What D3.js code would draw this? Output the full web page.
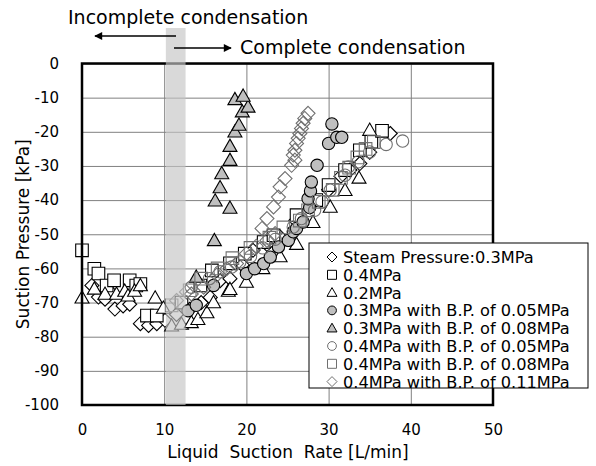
<!DOCTYPE html>
<html lang="en">
<head>
<meta charset="UTF-8">
<title>Suction Pressure vs Liquid Suction Rate</title>
<script src="https://cdn.jsdelivr.net/npm/d3@7"></script>
<style>
  body { margin: 0; background: #fff; }
  text { font-family: "DejaVu Sans", "Liberation Sans", Arial, sans-serif; fill: #000; }
</style>
</head>
<body>
<script>
    // axis ticks
    var xTicks = [0, 10, 20, 30, 40, 50];
    var yTicks = [0, -10, -20, -30, -40, -50, -60, -70, -80, -90, -100];

    // series values [liquid suction rate L/min, suction pressure kPa]
    var steam03 = [[1.2,-65],[2.0,-68.4],[2.8,-69],[3.5,-67],[4.0,-71.9],[5.0,-71],[5.8,-70.5],[7.1,-76.2],[8.1,-76.7],[9.1,-76.2],[10.1,-75.2],[11.5,-73.5],[13.1,-72],[14.5,-70],[15.6,-68.5],[16.8,-63.6],[18.0,-63],[19.5,-59],[20.8,-54.7],[22.5,-53],[24.1,-50.8],[26,-46],[28,-41],[30,-37],[31.5,-33],[32.6,-31.2],[33.8,-29.3],[35,-26],[37.5,-20.5]];
    var steam04 = [[0,-54.7],[1.5,-60.1],[2.0,-61.5],[3.0,-65],[3.9,-63.5],[5.8,-63.5],[6.6,-65],[7.1,-64.6],[7.9,-73.8],[9.1,-73.8],[12.1,-70],[14.4,-65],[15.8,-60.6],[18,-58.5],[19.8,-55.7],[22.1,-52.3],[23.3,-50.3],[26.1,-44.4],[28.5,-40],[30.0,-35.6],[32.0,-31.2],[33.8,-25.4],[35.2,-22.9],[36.5,-19.7]];
    var steam02 = [[0,-68.6],[1.5,-66],[2.8,-67.5],[4.2,-67.5],[5.2,-66.6],[5.6,-68],[6.4,-66.6],[7.1,-65],[8.9,-68.6],[9.9,-71.6],[10.9,-76.8],[12.1,-76.3],[13.3,-75.8],[14.1,-74.9],[15.2,-72.9],[16.0,-70],[17.8,-66.6],[18.0,-66.1],[20.0,-64],[22,-60],[24.1,-56.5],[26.1,-52.9],[28.1,-46.5],[30.2,-42],[32.0,-37.1],[33.7,-33.5],[35.0,-19.5]];
    var bp03_005 = [[12.9,-72.4],[13.9,-70.8],[16.0,-65],[20.0,-61.5],[21.0,-60.1],[22.1,-58.6],[22.9,-56.7],[23.9,-53.7],[25.1,-51.8],[25.7,-49.3],[26.1,-48.3],[26.9,-46.4],[27.7,-42.2],[27.5,-39.6],[27.8,-37.3],[27.9,-34.7],[28.6,-29.8],[30.0,-23.4],[31.0,-21.6],[31.6,-21.6],[30.4,-17.7]];
    var bp03_008 = [[13.9,-62.5],[16.1,-51.8],[16.2,-40.2],[18.0,-42.3],[16.8,-36.3],[17.0,-32.2],[18.0,-28.3],[18.0,-24.2],[18.6,-20],[19.1,-18],[19.5,-14.1],[20.2,-12.7],[18.6,-10.5],[19.6,-9.5]];
    var bp04_005 = [[13.3,-65.5],[15.5,-63],[16.8,-61],[18.2,-59.6],[19.2,-58.1],[20.5,-56.5],[22,-54],[23.5,-51.5],[25.7,-47.9],[26.7,-45.4],[28.3,-43],[29.2,-40.5],[30.2,-37.1],[32.0,-32.7],[32.4,-30.3],[33.6,-28.8],[35.0,-25.9],[37.0,-23.7],[39.0,-22.7]];
    var bp04_008 = [[10.9,-70.8],[13.1,-66.4],[14.5,-63],[16.5,-60],[18.3,-57],[20.5,-54],[22.8,-51],[24.5,-48],[26.5,-46],[27.5,-43],[28.8,-40.5],[30.5,-37],[31.5,-33.5],[32.5,-30.5],[33.5,-27.5],[34.5,-25],[35.5,-23]];
    var bp04_011 = [[11.5,-69.4],[12.7,-66.9],[13.3,-67.5],[14.8,-65.5],[16.4,-62],[17.6,-60.1],[18.8,-58.6],[20.0,-55.7],[21.2,-53.5],[22.5,-51.8],[23.5,-49.8],[21.9,-48.3],[22.5,-45.4],[23.3,-42],[23.9,-39.1],[24.1,-36.1],[24.7,-33.7],[25.5,-29.8],[25.9,-28.3],[25.7,-26.8],[25.9,-25.4],[26.1,-23.4],[26.3,-21.9],[26.5,-20.5],[26.7,-19],[26.9,-17.5],[27.1,-16.1],[27.5,-14.6]];

    // condensation boundary band (L/min)
    var band = [10.2, 12.6];

    var seriesNames = ["Steam Pressure:0.3MPa", "0.4MPa", "0.2MPa",
        "0.3MPa with B.P. of 0.05MPa", "0.3MPa with B.P. of 0.08MPa",
        "0.4MPa with B.P. of 0.05MPa", "0.4MPa with B.P. of 0.08MPa",
        "0.4MPa with B.P. of 0.11MPa"];

    var series = [
        {name: seriesNames[0], data: steam03,  shape: "diamond",  fill: "#fff",    stroke: "#000"},
        {name: seriesNames[1], data: steam04,  shape: "square",   fill: "#fff",    stroke: "#000"},
        {name: seriesNames[2], data: steam02,  shape: "triangle", fill: "#fff",    stroke: "#000"},
        {name: seriesNames[3], data: bp03_005, shape: "circle",   fill: "#bfbfbf", stroke: "#000"},
        {name: seriesNames[4], data: bp03_008, shape: "triangle", fill: "#bfbfbf", stroke: "#000"},
        {name: seriesNames[5], data: bp04_005, shape: "circle",   fill: "none",    stroke: "#707070"},
        {name: seriesNames[6], data: bp04_008, shape: "square",   fill: "none",    stroke: "#707070"},
        {name: seriesNames[7], data: bp04_011, shape: "diamond",  fill: "none",    stroke: "#707070"}
    ];

    // marker paths, s = half size
    function shapePath(type, s) {
        if (type == "diamond") return "M0," + (-s) + "L" + s + ",0L0," + s + "L" + (-s) + ",0Z";
        if (type == "square") { var h = s * 0.9; return "M" + (-h) + "," + (-h) + "h" + 2*h + "v" + 2*h + "h" + (-2*h) + "Z"; }
        if (type == "triangle") return "M0," + (-s) + "L" + s + "," + (s*0.75) + "L" + (-s) + "," + (s*0.75) + "Z";
        var r = s * 0.88;
        return "M" + (-r) + ",0a" + r + "," + r + " 0 1,0 " + 2*r + ",0a" + r + "," + r + " 0 1,0 " + (-2*r) + ",0Z";
    }

    var width = 596, height = 466;
    var plotL = 82, plotR = 493, plotT = 63.5, plotB = 405;

    var svg = d3.select("body").append("svg")
        .attr("width", width).attr("height", height);

    var x = d3.scaleLinear().domain([0, 50]).range([plotL, plotR]);
    var y = d3.scaleLinear().domain([-100, 0]).range([plotB, plotT]);

    // grid
    var gx = svg.append("g").attr("transform", "translate(0," + plotB + ")")
        .call(d3.axisBottom(x).tickValues(xTicks).tickSize(-(plotB - plotT)).tickFormat(""));
    var gy = svg.append("g").attr("transform", "translate(" + plotL + ",0)")
        .call(d3.axisLeft(y).tickValues(yTicks).tickSize(-(plotR - plotL)).tickFormat(""));
    [gx, gy].forEach(function (g) {
        g.select(".domain").remove();
        g.selectAll("line").attr("stroke", "#808080").attr("stroke-width", 1);
    });

    // tick labels (plain hyphen minus like the original)
    var plain = function (d) { return String(d); };
    var lx = svg.append("g").attr("transform", "translate(0," + plotB + ")")
        .call(d3.axisBottom(x).tickValues(xTicks).tickSize(0).tickPadding(19).tickFormat(plain));
    var ly = svg.append("g").attr("transform", "translate(" + plotL + ",0)")
        .call(d3.axisLeft(y).tickValues(yTicks).tickSize(0).tickPadding(23).tickFormat(plain));
    [lx, ly].forEach(function (g) {
        g.select(".domain").remove();
        g.selectAll("text").style("font-family", "'DejaVu Sans', sans-serif")
            .style("font-size", "15px").attr("fill", "#000");
    });

    // points
    series.forEach(function (s) {
        svg.append("g").selectAll("path")
            .data(s.data)
            .enter()
            .append("path")
            .attr("transform", function (d) { return "translate(" + x(d[0]) + "," + y(d[1]) + ")"; })
            .attr("d", shapePath(s.shape, 7))
            .attr("fill", s.fill)
            .attr("stroke", s.stroke)
            .attr("stroke-width", 1.1);
    });

    // frame
    svg.append("rect").attr("x", plotL).attr("y", plotT)
        .attr("width", plotR - plotL).attr("height", plotB - plotT)
        .attr("fill", "none").attr("stroke", "#000").attr("stroke-width", 2.5);

    // band (drawn over markers)
    svg.append("rect")
        .attr("x", x(band[0])).attr("width", x(band[1]) - x(band[0]))
        .attr("y", 28).attr("height", plotB - 28)
        .attr("fill", "#c4c4c4").attr("opacity", 0.65);

    // arrows
    var defs = svg.append("defs");
    defs.append("marker").attr("id", "head")
        .attr("viewBox", "0 0 10 10").attr("refX", 9).attr("refY", 5)
        .attr("markerWidth", 10).attr("markerHeight", 8).attr("markerUnits", "userSpaceOnUse")
        .attr("orient", "auto")
        .append("path").attr("d", "M0,0L10,5L0,10Z").attr("fill", "#000");

    svg.append("line").attr("x1", 176).attr("y1", 36).attr("x2", 95).attr("y2", 36)
        .attr("stroke", "#000").attr("stroke-width", 1.5).attr("marker-end", "url(#head)");
    svg.append("line").attr("x1", 174).attr("y1", 48).attr("x2", 231).attr("y2", 48)
        .attr("stroke", "#000").attr("stroke-width", 1.5).attr("marker-end", "url(#head)");

    svg.append("text").attr("x", 68).attr("y", 24).style("font-size", "19px")
        .text("Incomplete condensation");
    svg.append("text").attr("x", 240).attr("y", 54).style("font-size", "19px")
        .text("Complete condensation");

    // axis titles
    svg.append("text").attr("x", 288).attr("y", 458)
        .attr("text-anchor", "middle").style("font-size", "17px").style("white-space", "pre")
        .text("Liquid  Suction  Rate [L/min]");
    svg.append("text")
        .attr("transform", "translate(29," + ((plotT + plotB) / 2) + ") rotate(-90)")
        .attr("text-anchor", "middle").style("font-size", "17px")
        .text("Suction Pressure [kPa]");

    // legend
    var lg = svg.append("g").attr("transform", "translate(309,243)");
    lg.append("rect").attr("width", 279).attr("height", 145)
        .attr("fill", "#fff").attr("stroke", "#000").attr("stroke-width", 1);
    series.forEach(function (s, i) {
        var row = lg.append("g").attr("transform", "translate(23," + (14 + i * 17.8) + ")");
        row.append("path").attr("d", shapePath(s.shape, 5))
            .attr("fill", s.fill).attr("stroke", s.stroke).attr("stroke-width", 1);
        row.append("text").attr("x", 11).attr("y", 6).style("font-size", "16.2px").text(s.name);
    });
</script>
</body>
</html>
